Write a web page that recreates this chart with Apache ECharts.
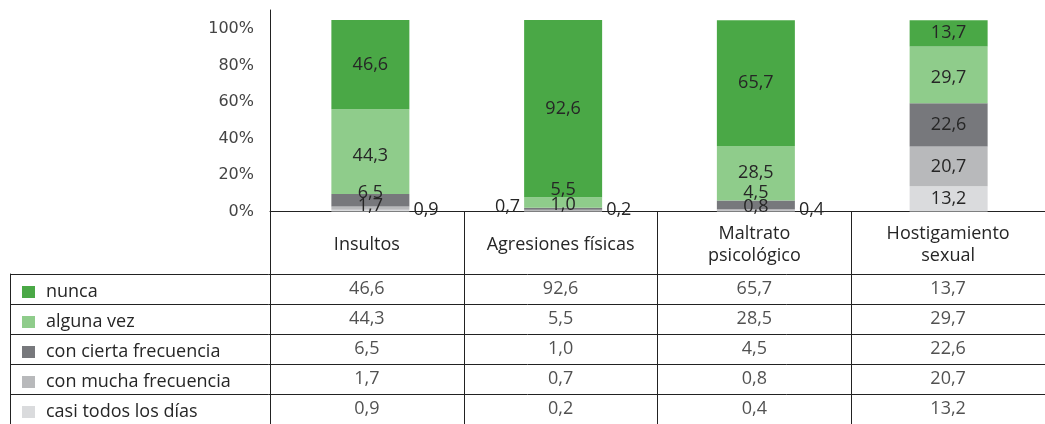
<!DOCTYPE html>
<html>
<head>
<meta charset="utf-8">
<script src="https://cdn.jsdelivr.net/npm/echarts@6.0.0/dist/echarts.min.js"></script>
<style>
  html, body { margin: 0; padding: 0; background: #fff; }
  #chart { width: 1045px; height: 424px; }
</style>
</head>
<body>
<div id="chart"></div>
<script>
// categorias (columnas de la tabla)
const categories = ['Insultos', 'Agresiones físicas', 'Maltrato\npsicológico', 'Hostigamiento\nsexual'];

// porcentajes por frecuencia
const nunca = [46.6, 92.6, 65.7, 13.7];
const algunaVez = [44.3, 5.5, 28.5, 29.7];
const conCierta = [6.5, 1.0, 4.5, 22.6];
const conMucha = [1.7, 0.7, 0.8, 20.7];
const casiTodos = [0.9, 0.2, 0.4, 13.2];

const yTicks = [0, 20, 40, 60, 80, 100];

const FONT = '"Open Sans", "Noto Sans", sans-serif';
const TEXT = '#262626';
const LINE = '#222';
const FS = 18;

// filas de la tabla, de arriba a abajo
const rows = [
    { name: 'nunca', data: nunca, color: '#4aa846' },
    { name: 'alguna vez', data: algunaVez, color: '#8fcc8b' },
    { name: 'con cierta frecuencia', data: conCierta, color: '#77787c' },
    { name: 'con mucha frecuencia', data: conMucha, color: '#b8b9bb' },
    { name: 'casi todos los días', data: casiTodos, color: '#dadbdd' },
];

// ajustes de etiqueta para los segmentos pequeños (como en el original)
const labelTweaks = {
    'casi todos los días': [{ position: 'right', offset: [0, -1] }, { position: 'right', offset: [0, -1] }, { position: 'right', offset: [0, -1] }, null],
    'con mucha frecuencia': [{ offset: [0, -2] }, { position: 'left', offset: [0, -4] }, { offset: [0, -3] }, null],
    'con cierta frecuencia': [{ offset: [0, -7] }, { offset: [0, -4] }, { offset: [0, -12] }, null],
    'alguna vez': [{ offset: [0, 4] }, { offset: [0, -13] }, null, { offset: [0, 3] }],
};

const fmt = v => v.toFixed(1).replace('.', ',');

const chart = echarts.init(document.getElementById('chart'));

// barras apiladas: la primera serie queda abajo
const barSeries = rows.slice().reverse().map(r => ({
    name: r.name,
    type: 'bar',
    stack: 'total',
    barWidth: 78,
    xAxisIndex: 0,
    yAxisIndex: 0,
    itemStyle: { color: r.color },
    label: {
        show: true,
        position: 'inside',
        distance: 4,
        color: TEXT,
        fontFamily: FONT,
        fontSize: FS,
        formatter: p => fmt(p.value),
    },
    data: r.data.map((v, i) => {
        const t = labelTweaks[r.name] && labelTweaks[r.name][i];
        return t ? { value: v, label: t } : v;
    }),
}));

// valores de la tabla como etiquetas sobre ejes de categoria
const cellData = [];
rows.forEach((r, ri) => r.data.forEach((v, ci) => cellData.push([ci, ri, v])));

const option = {
    animation: false,
    textStyle: { fontFamily: FONT },
    grid: [
        { left: 274, top: 10, width: 786, height: 201.5 },   // barras
        { left: 270, top: 211, width: 786, height: 214 },    // columnas de la tabla
        { left: 10, top: 274, width: 1046, height: 151.5 },  // filas de la tabla
        { left: 270, top: 274, width: 786, height: 151.5 },  // celdas
    ],
    legend: {
        orient: 'vertical',
        left: 22,
        top: 283,
        padding: 0,
        itemWidth: 13,
        itemHeight: 12,
        itemGap: 12,
        icon: 'rect',
        selectedMode: false,
        textStyle: { color: TEXT, fontFamily: FONT, fontSize: FS, lineHeight: 18, padding: [0, 0, 0, 6] },
        data: rows.map(r => r.name),
    },
    xAxis: [
        {
            gridIndex: 0,
            type: 'category',
            data: categories,
            axisLine: { show: false },
            axisTick: { show: false },
            axisLabel: { show: false },
        },
        {
            // cabecera de la tabla
            gridIndex: 1,
            type: 'category',
            position: 'top',
            data: categories,
            axisLine: { show: true, onZero: false, lineStyle: { color: LINE, width: 1 } },
            axisTick: { show: false },
            axisLabel: {
                inside: true, color: TEXT, fontFamily: FONT, fontSize: FS, lineHeight: 22,
                margin: 34, verticalAlign: 'middle', interval: 0,
            },
            splitLine: { show: true, lineStyle: { color: LINE, width: 1 } },
        },
        { gridIndex: 2, type: 'value', show: false },
        { gridIndex: 3, type: 'category', data: categories, show: false },
    ],
    yAxis: [
        {
            gridIndex: 0,
            type: 'value',
            min: 0,
            max: 105.2,
            offset: 4,
            axisLine: { show: true, lineStyle: { color: LINE, width: 1 } },
            axisTick: { show: false },
            axisLabel: { show: false },
            splitLine: { show: false },
        },
        {
            // solo rotulos, desplazados como en el original
            gridIndex: 0,
            type: 'value',
            position: 'left',
            min: 0,
            max: 110.4,
            interval: 20,
            offset: 4,
            axisLine: { show: false },
            axisTick: { show: false },
            splitLine: { show: false },
            axisLabel: {
                color: '#444', fontFamily: '"DejaVu Sans", sans-serif', fontSize: 16, margin: 16,
                showMaxLabel: false,
                formatter: v => (yTicks.includes(v) ? v + '%' : ''),
            },
        },
        { gridIndex: 1, type: 'value', show: false },
        {
            gridIndex: 2,
            type: 'category',
            inverse: true,
            data: rows.map(r => r.name),
            axisLine: { show: true, lineStyle: { color: LINE, width: 1 } },
            axisTick: { show: false },
            axisLabel: { show: false },
            splitLine: { show: true, lineStyle: { color: LINE, width: 1 } },
        },
        { gridIndex: 3, type: 'category', inverse: true, data: rows.map(r => r.name), show: false },
    ],
    series: [
        ...barSeries,
        {
            name: 'tabla',
            type: 'scatter',
            xAxisIndex: 3,
            yAxisIndex: 4,
            symbolSize: 0,
            silent: true,
            label: {
                show: true,
                position: 'inside',
                color: TEXT,
                fontFamily: FONT,
                fontSize: FS,
                formatter: p => fmt(p.value[2]),
            },
            data: cellData,
        },
    ],
};

chart.setOption(option);
</script>
</body>
</html>
